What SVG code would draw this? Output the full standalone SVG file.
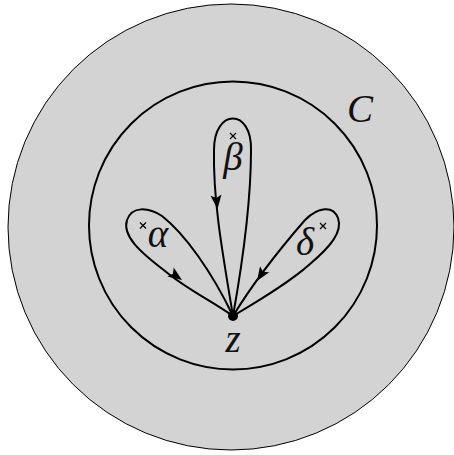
<svg xmlns="http://www.w3.org/2000/svg" width="454" height="455" viewBox="0 0 454 455">
<style>
.loop{fill:none;stroke:#000;stroke-width:2;stroke-linejoin:round}
.lbl{font-family:"Liberation Serif","DejaVu Serif",serif;font-style:italic;font-size:39px;fill:#111;text-anchor:middle}
.cross{stroke:#000;stroke-width:1.2;fill:none}
</style>
<defs>
<path id="ah" d="M0,0 L-14,-5.5 L-11,0 L-14,5.5 Z" fill="#000"/>
</defs>
<g id="outer"><circle cx="231" cy="227" r="223" fill="#d3d3d3" stroke="#000" stroke-width="1"/></g>
<g id="C"><circle cx="233" cy="225.5" r="144" fill="none" stroke="#000" stroke-width="2"/><text class="lbl" x="360" y="122">C</text></g>
<g id="connectors">
<path class="loop" d="M233,316 C 222,250 213,200 214,150 C 214,108 252,108 251,150 C 251,200 243,260 233,316"/>
<path class="loop" d="M233,316 C 210,300 185,288 165,271 C 140,252 122,236 127,220 C 132,206 148,207 162,216 C 185,234 212,272 233,316"/>
<path class="loop" d="M233,316 C 260,300 290,282 310,264 C 330,247 343,232 338,218 C 333,205 318,207 305,220 C 285,243 255,280 233,316"/>
<use href="#ah" transform="translate(217.5,209) rotate(84)"/>
<use href="#ah" transform="translate(182,280) rotate(35)"/>
<use href="#ah" transform="translate(257,281) rotate(123)"/>
</g>
<g id="alpha"><path class="cross" d="M140,222.5 l6,6 M146,222.5 l-6,6"/><text class="lbl" x="158" y="247">α</text></g>
<g id="beta"><path class="cross" d="M230,133 l6,6 M236,133 l-6,6"/><text class="lbl" x="233" y="170">β</text></g>
<g id="delta"><path class="cross" d="M320,223 l6,6 M326,223 l-6,6"/><text class="lbl" x="305" y="255">δ</text></g>
<g id="z"><circle cx="233" cy="316" r="5" fill="#000"/><text class="lbl" x="233" y="352">z</text></g>
</svg>
